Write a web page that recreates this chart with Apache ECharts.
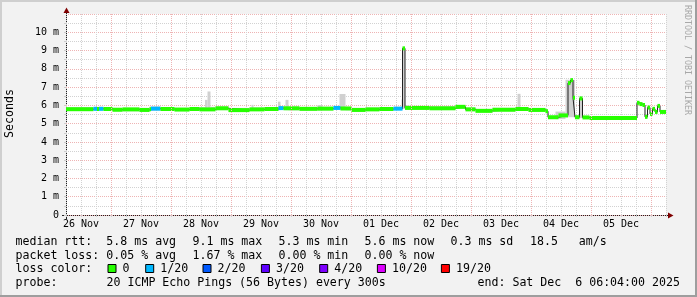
<!DOCTYPE html>
<html><head><meta charset="utf-8">
<script src="https://cdn.jsdelivr.net/npm/echarts@6/dist/echarts.min.js"></script>
<style>html,body{margin:0;padding:0;background:#f2f2f2}#c{width:697px;height:297px}</style>
</head><body><div id="c"></div>
<script>
// ---- data (x = hours since 26 Nov 00:00, y = milliseconds) ----
const dayLabels = ['26 Nov','27 Nov','28 Nov','29 Nov','30 Nov','01 Dec','02 Dec','03 Dec','04 Dec','05 Dec'];
const xMin = 6, xMax = 246;
const yMin = 0, yMax = 11;

const medianTimes = [6.0,17.0,18.4,19.2,21.0,24.6,28.6,35.4,39.4,40.0,43.8,49.4,55.4,59.4,65.8,71.0,79.4,85.4,91.0,93.0,99.4,106.6,113.0,115.8,120.2,125.8,131.4,137.0,140.6,141.6,151.4,161.8,165.8,169.8,176.6,185.8,191.0,197.8,198.8,203.0,206.8,207.8,208.8,209.6,211.4,212.6,215.4,234.4,235.4,236.6,237.6,238.6,239.6,240.6,241.6,242.6,243.6];
const medianValues = [5.79,5.81,5.80,5.81,5.80,5.76,5.78,5.75,5.79,5.82,5.80,5.77,5.80,5.78,5.84,5.74,5.78,5.80,5.85,5.84,5.81,5.82,5.86,5.83,5.75,5.78,5.80,5.82,9.12,5.86,5.84,5.92,5.78,5.70,5.76,5.80,5.75,5.68,5.35,5.45,7.22,7.38,6.42,5.35,6.38,5.34,5.31,6.14,6.07,6.02,5.37,5.88,5.53,5.81,5.64,5.97,5.64];
const lossIndex = [0,1,0,1,0,0,0,0,0,1,0,0,0,0,0,0,0,0,1,0,0,0,1,0,0,0,0,1,0,0,0,0,0,0,0,0,0,0,0,0,0,0,0,0,0,0,0,0,0,0,0,0,0,0,0,0,0];

const smokeTimes = [6.0,17.0,21.0,24.6,35.4,39.4,43.8,49.4,55.4,61.6,62.6,63.8,65.8,71.0,79.4,80.2,81.0,85.4,90.8,91.8,93.8,95.0,99.4,106.6,108.6,113.0,115.4,117.8,120.2,125.8,137.0,140.2,140.6,141.6,143.4,151.4,161.8,165.8,169.8,176.6,185.8,186.6,187.8,191.0,197.8,198.8,201.8,205.8,209.6,211.4,212.6,215.4,234.4,235.4,236.6,237.6,238.6,239.6,240.6,241.6,242.6,243.6];
const smokeLow = [5.72,5.74,5.72,5.68,5.66,5.72,5.71,5.70,5.71,5.70,5.70,5.70,5.76,5.66,5.70,5.70,5.71,5.72,5.74,5.76,5.74,5.73,5.72,5.73,5.74,5.76,5.74,5.73,5.66,5.70,5.74,5.74,5.80,5.78,5.77,5.76,5.82,5.70,5.62,5.68,5.72,5.72,5.72,5.67,5.60,5.28,5.25,5.35,5.28,5.30,5.27,5.25,6.05,5.98,5.95,5.30,5.80,5.46,5.74,5.57,5.90,5.57];
const smokeHigh = [5.90,5.92,5.88,5.86,5.84,5.94,5.88,5.86,5.90,6.30,6.76,5.92,5.94,5.86,5.88,6.03,5.88,5.90,6.20,5.94,6.30,5.92,5.90,6.02,5.92,5.96,6.62,5.92,5.86,5.88,5.92,6.32,9.16,6.00,5.96,5.95,6.02,5.88,5.80,5.86,5.90,6.63,5.90,5.84,5.78,5.42,5.66,7.40,5.45,6.42,5.42,5.40,6.22,6.14,6.10,5.45,5.96,5.62,5.90,5.72,6.05,5.72];

const lossColors = ['#26ff00','#00b8ff','#0059ff','#5e00ff','#7e00ff','#dd00ff','#ff0000'];
const lossLabels = ['0','1/20','2/20','3/20','4/20','10/20','19/20'];
const rttStats = ['5.8 ms avg','9.1 ms max','5.3 ms min','5.6 ms now','0.3 ms sd','18.5   am/s'];
const lossStats = ['0.05 % avg','1.67 % max','0.00 % min','0.00 % now'];
const probeText = '20 ICMP Echo Pings (56 Bytes) every 300s';
const endText = 'end: Sat Dec  6 06:04:00 2025';

// ---- layout ----
const G = {left: 66, top: 14, width: 600, height: 201};
const MONO = '"DejaVu Sans Mono", monospace';
const legendFont = '11.6px ' + MONO;

function segs(times, f) {
  return times.map((t, i) => f(t, i < times.length - 1 ? times[i + 1] : xMax, i));
}
const bandData = segs(medianTimes, (t0, t1, i) => [t0, t1, medianValues[i], lossIndex[i]]);
const smokeData = segs(smokeTimes, (t0, t1, i) => [t0, t1, smokeLow[i], smokeHigh[i]]);
const lineData = medianTimes.map((t, i) => [t, medianValues[i]]).concat([[xMax, medianValues[medianValues.length - 1]]]);
const midnights = dayLabels.map((d, i) => 24 * (i + 1));

const chart = echarts.init(document.getElementById('c'), null, {renderer: 'canvas'});

const graphic = [];
function txt(text, x, y, extra) {
  graphic.push(Object.assign({type: 'text', x: x, y: y, silent: true,
    style: {text: text, font: legendFont, fill: '#000', align: 'left', verticalAlign: 'middle'}}, extra || {}));
}
// frame shading
graphic.push({type:'rect', silent:true, shape:{x:0,y:0,width:697,height:2}, style:{fill:'#cfcfcf'}});
graphic.push({type:'rect', silent:true, shape:{x:0,y:0,width:2,height:297}, style:{fill:'#cfcfcf'}});
graphic.push({type:'rect', silent:true, shape:{x:695,y:0,width:2,height:297}, style:{fill:'#9e9e9e'}});
graphic.push({type:'rect', silent:true, shape:{x:0,y:295,width:697,height:2}, style:{fill:'#9e9e9e'}});
// axis lines & arrows
const x0 = G.left + 0.5, yB = G.top + G.height + 0.5;
graphic.push({type:'line', silent:true, shape:{x1:62, y1:yB, x2:669, y2:yB}, style:{stroke:'#212121', lineWidth:1}});
graphic.push({type:'line', silent:true, shape:{x1:x0, y1:219, x2:x0, y2:12}, style:{stroke:'#212121', lineWidth:1}});
graphic.push({type:'polygon', silent:true, shape:{points:[[668,yB-3],[673.5,yB],[668,yB+3]]}, style:{fill:'#7f0000'}});
graphic.push({type:'polygon', silent:true, shape:{points:[[x0-3,13],[x0,7.5],[x0+3,13]]}, style:{fill:'#7f0000'}});
// titles
graphic.push({type:'text', silent:true, x:10, y:113.5, rotation:Math.PI/2,
  style:{text:'Seconds', font:legendFont, fill:'#000', align:'center', verticalAlign:'middle'}});
graphic.push({type:'text', silent:true, x:687.5, y:60, rotation:-Math.PI/2,
  style:{text:'RRDTOOL / TOBI OETIKER', font:'8.3px ' + MONO, fill:'#a8a8a8', align:'center', verticalAlign:'middle'}});
// legend rows
const rowY = [241.8, 255.5, 269.0, 282.6];
const colX = [106.3, 192.5, 278.5, 364.5, 450.5, 530];
txt('median rtt:', 15.5, rowY[0]);
rttStats.forEach((s, i) => txt(s, colX[i], rowY[0]));
txt('packet loss:', 15.5, rowY[1]);
lossStats.forEach((s, i) => txt(s, colX[i], rowY[1]));
txt('loss color:', 15.5, rowY[2]);
const boxX = [108.3, 146, 203.3, 261.7, 320, 377.7, 441.7];
lossLabels.forEach((l, i) => {
  graphic.push({type:'rect', silent:true, shape:{x:boxX[i]-0.3, y:264.5, width:8, height:8},
    style:{fill:lossColors[i], stroke:'#000', lineWidth:1}});
  txt(l, boxX[i] + 14.3, rowY[2]);
});
txt('probe:', 15.5, rowY[3]);
txt(probeText, 106.5, rowY[3]);
txt(endText, 477.5, rowY[3]);

const axisFont = {fontFamily: MONO, fontSize: 10, color: '#000'};
const minorGrid = {color: '#d2d2d2', type: [1, 1], width: 1};
const majorGrid = {color: '#eeb4b4', type: [1, 1], width: 1};

chart.setOption({
  animation: false,
  backgroundColor: '#f2f2f2',
  grid: {left: G.left, top: G.top, width: G.width, height: G.height, show: true, backgroundColor: '#ffffff', borderWidth: 0},
  xAxis: [{
    type: 'value', min: xMin, max: xMax, interval: 6,
    axisLine: {show: false},
    axisTick: {show: true, length: 2, lineStyle: {color: '#cfcfcf'}},
    axisLabel: Object.assign({margin: 4, showMinLabel: true, showMaxLabel: true,
      formatter: v => { const k = (v - 12) / 24; return (Math.abs(k - Math.round(k)) < 1e-6 && k >= 0 && k < dayLabels.length) ? dayLabels[Math.round(k)] : ''; }}, axisFont),
    splitLine: {show: true, lineStyle: minorGrid}
  }],
  yAxis: [{
    type: 'value', min: yMin, max: yMax, interval: 0.5,
    axisLine: {show: false},
    axisTick: {show: true, length: 2, lineStyle: {color: '#cfcfcf'}},
    axisLabel: Object.assign({margin: 7, showMaxLabel: false,
      formatter: v => v === 0 ? '0' : (Math.abs(v - Math.round(v)) < 1e-6 && v < yMax ? Math.round(v) + ' m' : '')}, axisFont),
    splitLine: {show: true, lineStyle: minorGrid}
  }, {
    type: 'value', min: yMin, max: yMax, interval: 1, position: 'left',
    axisLine: {show: false}, axisTick: {show: false}, axisLabel: {show: false},
    splitLine: {show: true, lineStyle: majorGrid}
  }],
  series: [
    {
      type: 'line', data: [], z: 1, silent: true,
      markLine: {silent: true, symbol: 'none', label: {show: false}, animation: false,
        lineStyle: majorGrid,
        data: midnights.map(h => ({xAxis: h}))}
    },
    {
      type: 'custom', name: 'smoke', z: 2, clip: true, silent: true,
      encode: {x: [0, 1], y: [2, 3]},
      data: smokeData,
      renderItem: (params, api) => {
        const a = api.coord([api.value(0), api.value(3)]);
        const b = api.coord([api.value(1), api.value(2)]);
        return {type: 'rect', shape: {x: a[0], y: a[1], width: b[0] - a[0], height: b[1] - a[1]}, style: {fill: '#d0d0d0'}};
      }
    },
    {
      type: 'line', name: 'median', z: 3, step: 'end', symbol: 'none', silent: true,
      data: lineData, lineStyle: {color: '#202020', width: 1}
    },
    {
      type: 'custom', name: 'loss', z: 4, clip: true, silent: true,
      encode: {x: [0, 1], y: 2},
      data: bandData,
      renderItem: (params, api) => {
        const p0 = api.coord([api.value(0), api.value(2)]);
        const p1 = api.coord([api.value(1), api.value(2)]);
        return {type: 'rect', shape: {x: p0[0], y: p0[1] - 2, width: p1[0] - p0[0], height: 4},
          style: {fill: lossColors[api.value(3)]}};
      }
    }
  ],
  graphic: graphic
});
</script>
</body></html>
